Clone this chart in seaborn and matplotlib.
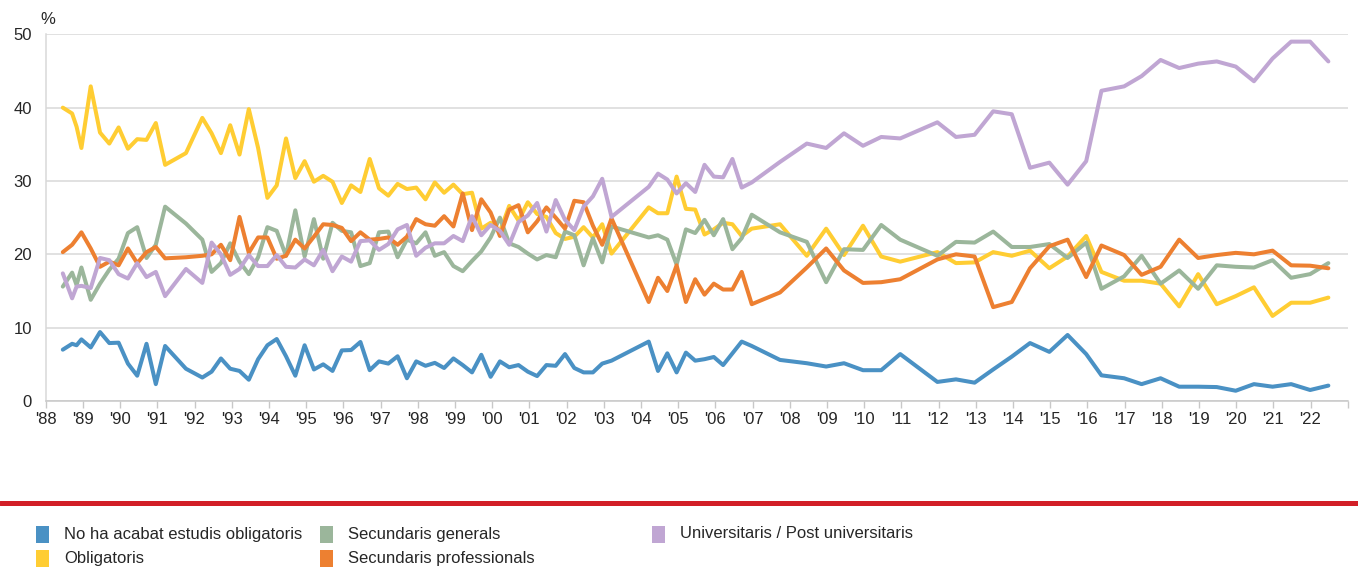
import matplotlib
matplotlib.use("Agg")
import matplotlib.pyplot as plt
from matplotlib.patches import Rectangle
from matplotlib.lines import Line2D
import pandas as pd
import seaborn as sns

# ---------------- data ----------------
fechas = [1988.46, 1988.71, 1988.83, 1988.96,
          1989.21, 1989.46, 1989.71, 1989.96,
          1990.21, 1990.46, 1990.71, 1990.96,
          1991.21, 1991.77,
          1992.21, 1992.46, 1992.71, 1992.96,
          1993.21, 1993.46, 1993.71, 1993.96,
          1994.21, 1994.46, 1994.71, 1994.96,
          1995.21, 1995.46, 1995.71, 1995.96,
          1996.21, 1996.46, 1996.71, 1996.96,
          1997.21, 1997.46, 1997.71, 1997.96,
          1998.21, 1998.46, 1998.71, 1998.96,
          1999.21, 1999.46, 1999.71, 1999.96,
          2000.21, 2000.46, 2000.71, 2000.96,
          2001.21, 2001.46, 2001.71, 2001.96,
          2002.21, 2002.46, 2002.71, 2002.96,
          2003.21,
          2004.21, 2004.46, 2004.71, 2004.96,
          2005.21, 2005.46, 2005.71, 2005.96,
          2006.21, 2006.46, 2006.71, 2006.98,
          2007.74, 2008.46, 2008.98, 2009.46, 2009.97, 2010.46, 2010.97,
          2011.97, 2012.47, 2012.97, 2013.47, 2013.97,
          2014.46, 2014.98, 2015.47, 2015.97, 2016.38, 2016.99,
          2017.46, 2017.97, 2018.47, 2018.98, 2019.48, 2019.99,
          2020.48, 2020.98, 2021.48, 2021.99, 2022.48]

no_obligatoris = [7.0, 7.8, 7.6, 8.4, 7.3, 9.4, 7.9, 7.95, 5.1, 3.45, 7.8, 2.3, 7.5, 4.4, 3.2, 4.0, 5.8, 4.4,
                  4.1, 2.9, 5.7, 7.6, 8.45, 6.1, 3.45, 7.6, 4.3, 5.0, 4.1, 6.9, 6.95, 8.05, 4.2, 5.4,
                  5.1, 6.1, 3.1, 5.4, 4.8, 5.2, 4.5, 5.8, 4.9, 3.9, 6.3, 3.3, 5.4, 4.6, 4.9, 4.0,
                  3.4, 4.9, 4.8, 6.4, 4.5, 3.9, 3.9, 5.1,
                  5.5,
                  8.1, 4.1, 6.5, 3.9, 6.6, 5.5, 5.7, 6.0, 4.9, 6.5, 8.1, 7.5,
                  5.6, 5.15, 4.7, 5.15, 4.2, 4.2, 6.4,
                  2.6, 2.95, 2.5, 4.3, 6.05,
                  7.9, 6.7, 9.0, 6.4, 3.5, 3.1,
                  2.3, 3.1, 1.95, 1.95, 1.9, 1.4,
                  2.3, 1.95, 2.3, 1.5, 2.1]

obligatoris = [40.0, 39.2, 37.4, 34.5, 42.9, 36.6, 35.1, 37.3, 34.4, 35.7, 35.6, 37.9, 32.2, 33.8, 38.6, 36.5, 33.8, 37.6,
               33.6, 39.8, 34.5, 27.7, 29.4, 35.8, 30.4, 32.7, 29.9, 30.7, 29.9, 27.0, 29.4, 28.5, 33.0, 29.0,
               28.0, 29.6, 28.9, 29.1, 27.5, 29.8, 28.4, 29.5, 28.2, 28.4, 23.5, 24.3, 23.1, 26.6, 24.6, 27.1,
               25.5, 25.1, 22.9, 22.1, 22.4, 23.7, 22.3, 24.1,
               20.1,
               26.4, 25.6, 25.6, 30.6, 26.2, 26.1, 22.7, 23.4, 24.3, 24.1, 22.5, 23.5,
               24.1, 19.8, 23.5, 19.9, 23.9, 19.7, 19.0,
               20.3, 18.8, 18.9, 20.3, 19.8,
               20.5, 18.1, 19.7, 22.5, 17.6, 16.4,
               16.4, 16.0, 12.9, 17.3, 13.2, 14.3,
               15.5, 11.6, 13.4, 13.4, 14.1]

sec_generals = [15.6, 17.5, 15.8, 18.2, 13.8, 16.0, 17.9, 19.4, 22.9, 23.7, 19.5, 21.3, 26.5, 24.2, 22.0, 17.6, 18.8, 21.5,
                19.0, 17.3, 19.6, 23.7, 23.2, 19.8, 26.0, 19.7, 24.8, 19.4, 24.3, 23.2, 23.0, 18.4, 18.8, 23.0,
                23.1, 19.6, 22.0, 21.5, 23.0, 19.8, 20.3, 18.4, 17.7, 19.1, 20.4, 22.3, 25.0, 21.5, 21.0, 20.1,
                19.3, 19.9, 19.6, 23.1, 22.6, 18.5, 22.2, 18.9,
                23.8,
                22.3, 22.6, 22.0, 18.6, 23.4, 22.9, 24.7, 22.6, 24.8, 20.7, 22.2, 25.4,
                23.0, 21.7, 16.2, 20.7, 20.6, 24.0, 22.0,
                19.8, 21.7, 21.6, 23.1, 21.0,
                21.0, 21.4, 19.5, 21.6, 15.3, 17.0,
                19.8, 16.0, 17.8, 15.3, 18.5, 18.3,
                18.2, 19.2, 16.8, 17.3, 18.8]

sec_professionals = [20.3, 21.3, 22.1, 23.0, 20.8, 18.3, 19.0, 18.5, 20.8, 18.8, 20.3, 21.0, 19.45, 19.6, 19.8, 20.0, 21.3, 19.2,
                     25.1, 20.2, 22.3, 22.3, 19.4, 19.8, 22.0, 20.8, 22.4, 24.1, 24.0, 23.6, 21.8, 23.0, 22.0, 22.1,
                     22.3, 21.3, 22.4, 24.8, 24.1, 23.9, 25.2, 23.8, 28.3, 23.3, 27.5, 25.7, 22.5, 26.1, 26.7, 23.0,
                     24.5, 26.4, 25.0, 23.5, 27.3, 27.1, 23.9, 21.3,
                     24.9,
                     13.5, 16.8, 15.0, 18.5, 13.5, 16.6, 14.5, 16.0, 15.2, 15.2, 17.6, 13.2,
                     14.8, 18.2, 20.8, 17.8, 16.1, 16.2, 16.6,
                     19.3, 20.0, 19.7, 12.8, 13.5,
                     18.1, 21.1, 22.0, 16.9, 21.2, 19.9,
                     17.2, 18.3, 22.0, 19.5, 19.9, 20.2,
                     20.0, 20.5, 18.5, 18.45, 18.1]

universitaris = [17.4, 14.0, 15.6, 15.7, 15.4, 19.5, 19.2, 17.3, 16.7, 18.8, 16.9, 17.6, 14.3, 18.0, 16.1, 21.6, 20.0, 17.2,
                 18.0, 19.9, 18.4, 18.4, 19.9, 18.3, 18.2, 19.3, 18.5, 20.6, 17.7, 19.7, 19.0, 21.8, 21.9, 20.6,
                 21.4, 23.4, 24.0, 19.8, 20.9, 21.5, 21.5, 22.5, 21.8, 25.2, 22.6, 24.0, 23.2, 21.3, 24.4, 25.3,
                 27.0, 23.1, 27.4, 24.7, 23.3, 26.5, 27.9, 30.3,
                 25.1,
                 29.2, 31.0, 30.2, 28.3, 29.7, 28.5, 32.2, 30.6, 30.5, 33.0, 29.1, 29.8,
                 32.6, 35.1, 34.5, 36.5, 34.8, 36.0, 35.8,
                 38.0, 36.0, 36.3, 39.5, 39.1,
                 31.8, 32.5, 29.5, 32.7, 42.3, 42.9,
                 44.3, 46.5, 45.4, 46.0, 46.3, 45.6,
                 43.6, 46.7, 49.0, 49.0, 46.3]

series_noms = ["No ha acabat estudis obligatoris", "Obligatoris", "Secundaris generals",
               "Secundaris professionals", "Universitaris / Post universitaris"]
series_vals = [no_obligatoris, obligatoris, sec_generals, sec_professionals, universitaris]
colors = ["#4a91c4", "#ffcd33", "#9bb69b", "#ed8031", "#c0a6d3"]

anys_ticks = list(range(1988, 2024))
etiquetes_x = ["'%02d" % (a % 100) for a in range(1988, 2023)] + [""]
yticks = [0, 10, 20, 30, 40, 50]

# ---------------- build frame ----------------
rows = []
for nom, vals in zip(series_noms, series_vals):
    for f, v in zip(fechas, vals):
        rows.append((f, v, nom))
df = pd.DataFrame(rows, columns=["fecha", "valor", "serie"])

sns.set_theme(style="white")
plt.rcParams["font.family"] = ["Liberation Sans", "DejaVu Sans"]

W, H = 1358, 567
fig = plt.figure(figsize=(W / 100, H / 100), dpi=100)
L, R, T, B = 45.7, 1347.7, 34.3, 401.0
ax = fig.add_axes([L / W, 1 - B / H, (R - L) / W, (B - T) / H])

sns.lineplot(data=df, x="fecha", y="valor", hue="serie", hue_order=series_noms,
             palette=colors, linewidth=2.9, errorbar=None, legend=False, ax=ax,
             solid_joinstyle="round", solid_capstyle="round")

ax.set_xlim(1988, 2023)
ax.set_ylim(0, 50)
ax.set_yticks(yticks)
ax.set_xticks(anys_ticks)
ax.set_xticklabels(etiquetes_x)
ax.yaxis.grid(True, color="#d9d9d9", linewidth=1.1)
ax.xaxis.grid(False)
ax.set_axisbelow(True)
ax.set_xlabel("")
ax.set_ylabel("")
for s in ["top", "right"]:
    ax.spines[s].set_visible(False)
ax.spines["left"].set_color("#d9d9d9")
ax.spines["left"].set_linewidth(1.1)
ax.spines["bottom"].set_color("#c8c8c8")
ax.spines["bottom"].set_linewidth(1.1)
ax.tick_params(axis="x", length=5, width=1, color="#c8c8c8", pad=3,
               labelsize=12, labelcolor="#262626", direction="out", bottom=True)
ax.tick_params(axis="y", length=0, pad=10, labelsize=12, labelcolor="#262626")

# percent sign
fig.text(40 / W, 1 - 24 / H, "%", fontsize=12, color="#262626", ha="left", va="baseline")

# red separator line
fig.add_artist(Line2D([0, 1], [1 - 503 / H, 1 - 503 / H], transform=fig.transFigure,
                      color="#d21f27", linewidth=3.6))

# legend (three columns, Excel-like fixed positions)
leg_pos = [(36, 534), (36, 558), (320, 534), (320, 558), (652, 534)]
for (px, py), nom, c in zip(leg_pos, series_noms, colors):
    fig.add_artist(Rectangle((px / W, 1 - (py + 8.5) / H), 13 / W, 17 / H,
                             transform=fig.transFigure, facecolor=c, edgecolor="none"))
    fig.text((px + 28) / W, 1 - py / H, nom, fontsize=12, color="#262626",
             ha="left", va="center")

fig.savefig("out.png", dpi=100)
